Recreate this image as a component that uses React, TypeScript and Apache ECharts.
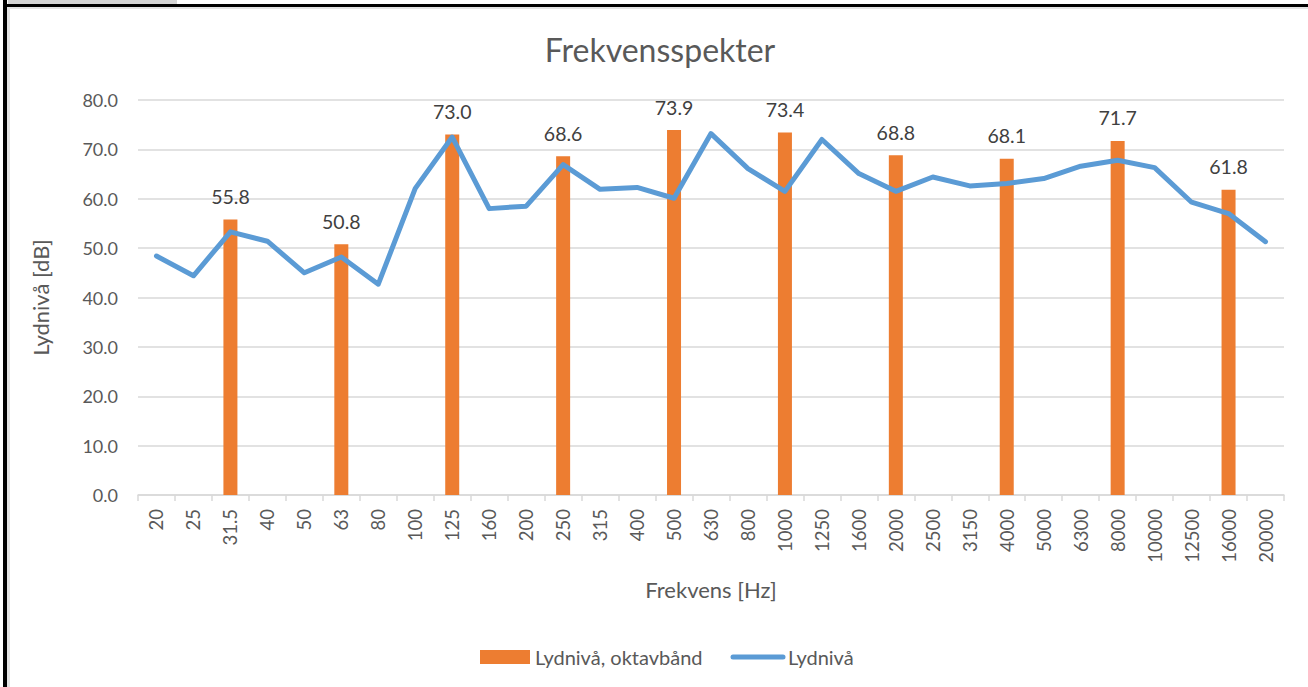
import React, { useEffect, useRef } from "react";
import * as echarts from "echarts";

const categories = ["20","25","31.5","40","50","63","80","100","125","160","200","250","315","400","500","630","800","1000","1250","1600","2000","2500","3150","4000","5000","6300","8000","10000","12500","16000","20000"];
const octaveValues: (number | null)[] = [null,null,55.8,null,null,50.8,null,null,73.0,null,null,68.6,null,null,73.9,null,null,73.4,null,null,68.8,null,null,68.1,null,null,71.7,null,null,61.8,null];
const levelValues = [48.4,44.4,53.3,51.4,45.0,48.2,42.7,62.1,72.5,58.0,58.5,66.9,61.9,62.3,60.1,73.2,66.1,61.5,72.0,65.1,61.5,64.4,62.6,63.1,64.1,66.6,67.8,66.3,59.3,57.0,51.3];
const yTicks = [0, 80, 10];

const FONT = "Lato, 'Open Sans', sans-serif";

export default function App() {
  const ref = useRef<HTMLDivElement>(null);
  useEffect(() => {
    const chart = echarts.init(ref.current!, null, { renderer: "svg" });
    chart.setOption({
      animation: false,
      backgroundColor: "#ffffff",
      textStyle: { fontFamily: FONT },
      title: {
        text: "Frekvensspekter",
        left: 655,
        textAlign: "center",
        top: 28,
        textStyle: { fontFamily: FONT, fontSize: 32, fontWeight: "normal", color: "#595959" },
      },
      grid: { left: 138, right: 24, top: 100, bottom: 192, containLabel: false },
      legend: {
        left: 475,
        top: 642,
        itemWidth: 50,
        itemHeight: 14,
        itemGap: 28,
        textStyle: { fontFamily: FONT, fontSize: 20, color: "#595959" },
        data: [
          { name: "Lydnivå, oktavbånd", icon: "rect" },
          { name: "Lydnivå", itemStyle: { opacity: 0 }, lineStyle: { width: 5, color: "#5b9bd5", cap: "round" } },
        ],
      },
      xAxis: {
        type: "category",
        data: categories,
        boundaryGap: true,
        name: "Frekvens [Hz]",
        nameLocation: "middle",
        nameGap: 83,
        nameTextStyle: { fontFamily: FONT, fontSize: 22, color: "#595959" },
        axisLine: { lineStyle: { color: "#d9d9d9", width: 1.5 } },
        axisTick: { show: true, alignWithLabel: false, length: 6, lineStyle: { color: "#d9d9d9", width: 1.5 } },
        axisLabel: { rotate: 90, interval: 0, fontFamily: FONT, fontSize: 18.5, color: "#595959", margin: 14 },
      },
      yAxis: {
        type: "value",
        min: yTicks[0],
        max: yTicks[1],
        interval: yTicks[2],
        name: "Lydnivå [dB]",
        nameLocation: "middle",
        nameGap: 87,
        nameTextStyle: { fontFamily: FONT, fontSize: 22, color: "#595959" },
        axisLine: { show: false },
        axisTick: { show: false },
        axisLabel: { fontFamily: FONT, fontSize: 18, color: "#595959", margin: 20, formatter: (v: number) => v.toFixed(1) },
        splitLine: { lineStyle: { color: "#d9d9d9", width: 1.5 } },
      },
      series: [
        {
          name: "Lydnivå, oktavbånd",
          type: "bar",
          data: octaveValues,
          barWidth: 14,
          itemStyle: { color: "#ed7d31" },
          label: {
            show: true,
            position: "top",
            distance: 13,
            fontFamily: FONT,
            fontSize: 19.5,
            color: "#404040",
            formatter: (p: any) => (p.value == null ? "" : Number(p.value).toFixed(1)),
          },
          z: 2,
        },
        {
          name: "Lydnivå",
          type: "line",
          data: levelValues,
          symbol: "none",
          lineStyle: { color: "#5b9bd5", width: 5, cap: "round", join: "round" },
          itemStyle: { color: "#5b9bd5" },
          z: 3,
        },
      ],
      graphic: [
        { type: "rect", shape: { x: 8, y: 0, width: 169, height: 4 }, style: { fill: "#d4d4d4" }, silent: true },
        { type: "rect", shape: { x: 3, y: 4, width: 1305, height: 3 }, style: { fill: "#000000" }, silent: true },
        { type: "rect", shape: { x: 3, y: 0, width: 4, height: 687 }, style: { fill: "#000000" }, silent: true },
        { type: "rect", shape: { x: 7, y: 7, width: 1301, height: 2 }, style: { fill: "#e3e3e3" }, silent: true },
        { type: "rect", shape: { x: 7, y: 7, width: 3, height: 680 }, style: { fill: "#e3e3e3" }, silent: true },
      ],
    });
    return () => chart.dispose();
  }, []);
  return <div ref={ref} style={{ position: "fixed", left: 0, top: 0, width: 1308, height: 687 }} />;
}
